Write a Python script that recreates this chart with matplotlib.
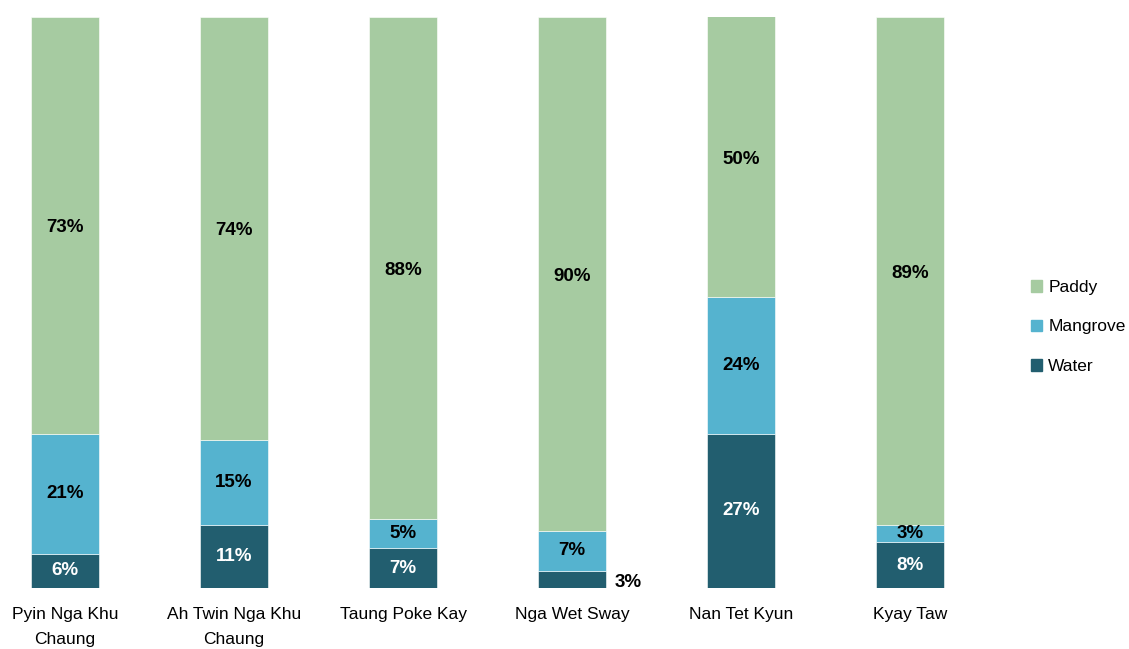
import matplotlib
matplotlib.use("Agg")
import matplotlib.pyplot as plt
import matplotlib.transforms as mtransforms
import numpy as np
from matplotlib.patches import Patch

plt.rcParams["font.family"] = ["Liberation Sans Narrow", "Liberation Sans", "DejaVu Sans"]

sites = ["Pyin Nga Khu\nChaung", "Ah Twin Nga Khu\nChaung", "Taung Poke Kay",
         "Nga Wet Sway", "Nan Tet Kyun", "Kyay Taw"]
water = [6, 11, 7, 3, 27, 8]
mangrove = [21, 15, 5, 7, 24, 3]
paddy = [73, 74, 88, 90, 50, 89]

COL_PADDY = "#A6CBA1"
COL_MANGROVE = "#55B3CF"
COL_WATER = "#225E6F"

fig = plt.figure(figsize=(11.29, 6.49), dpi=100)
W, H = 1129, 649
ax = fig.add_axes([20 / W, (H - 588) / H, (990 - 20) / W, 571 / H])

x = np.arange(len(sites))
px_per_unit = 169
ax.set_xlim((20 - 65) / px_per_unit, (990 - 65) / px_per_unit)
ax.set_ylim(0, 100)
bw = 68 / px_per_unit

water = np.array(water)
mangrove = np.array(mangrove)
paddy = np.array(paddy)

ax.bar(x, water, bw, color=COL_WATER, edgecolor="white", linewidth=0.4)
ax.bar(x, mangrove, bw, bottom=water, color=COL_MANGROVE,
       edgecolor="white", linewidth=0.4)
ax.bar(x, paddy, bw, bottom=water + mangrove, color=COL_PADDY,
       edgecolor="white", linewidth=0.4)

lab_kw = dict(ha="center", va="center", fontsize=13.5, weight="bold")
for i in range(len(sites)):
    # water labels: white inside the bar, or black beside a thin segment
    if water[i] < 5:
        ax.text(x[i] + bw / 2 + 0.05, water[i] / 2 - 0.6, f"{water[i]}%",
                ha="left", va="center", fontsize=13.5, weight="bold", color="black",
                clip_on=False)
    else:
        ax.text(x[i], water[i] / 2, f"{water[i]}%", color="white", **lab_kw)
    ax.text(x[i], water[i] + mangrove[i] / 2, f"{mangrove[i]}%", color="black", **lab_kw)
    top = min(water[i] + mangrove[i] + paddy[i], 100)
    ax.text(x[i], (water[i] + mangrove[i] + top) / 2 - 0.4, f"{paddy[i]}%",
            color="black", **lab_kw)

# category labels under the bars (drawn as text so the line spacing sticks)
ax.set_xticks([])
ax.set_yticks([])
cat_tr = mtransforms.blended_transform_factory(ax.transData, ax.transAxes)
for xi, name in zip(x, sites):
    ax.text(xi, -19 / 571, name, transform=cat_tr, ha="center", va="top",
            fontsize=12.5, linespacing=1.85, clip_on=False)
for s in ax.spines.values():
    s.set_visible(False)

handles = [Patch(color=COL_PADDY, label="Paddy"),
           Patch(color=COL_MANGROVE, label="Mangrove"),
           Patch(color=COL_WATER, label="Water")]
fig.legend(handles=handles, loc="center left", bbox_to_anchor=(1031 / W, 1 - 327 / H),
           frameon=False, fontsize=12.5, handlelength=0.65, handleheight=0.65,
           handletextpad=0.35, labelspacing=1.4, borderpad=0, borderaxespad=0)

fig.savefig("out.png", dpi=100)
